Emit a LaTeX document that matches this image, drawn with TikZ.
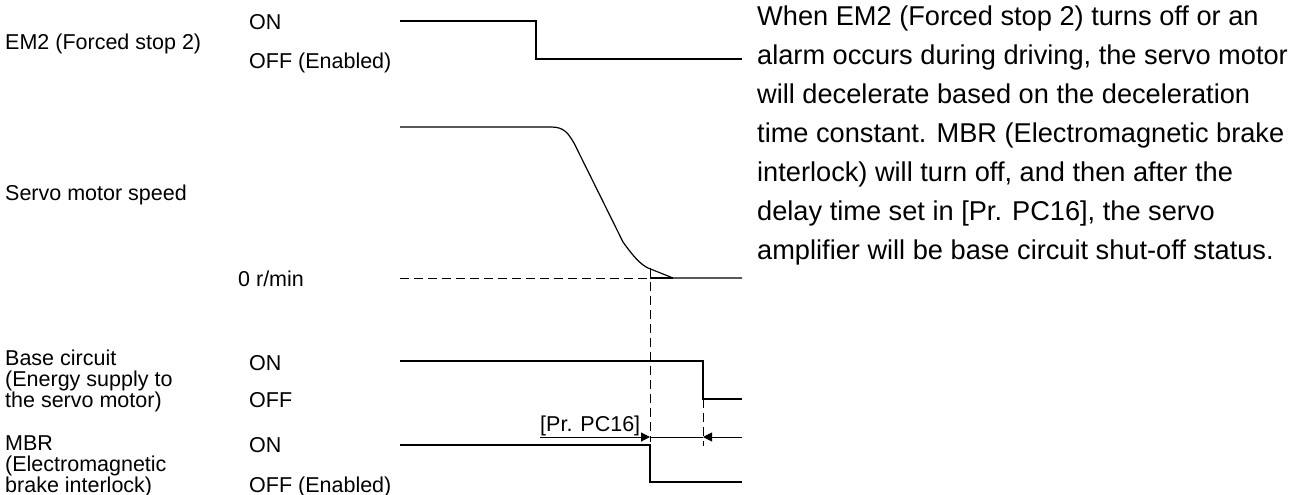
\documentclass[tikz,border=0pt]{standalone}
\usepackage{fontspec}
\setmainfont{Liberation Sans}
\usetikzlibrary{arrows.meta}
\begin{document}
\begin{tikzpicture}[x=1pt,y=-1pt,
  lbl/.style={inner sep=0pt, anchor=base west, font=\fontsize{21.5}{21}\selectfont, align=left},
  para/.style={inner sep=0pt, anchor=base west, font=\fontsize{27.2}{39.0}\selectfont, align=left},
  sig/.style={line width=1.2pt},
  guide/.style={line width=1pt, dash pattern=on 9pt off 5pt},
  dim/.style={line width=1pt},
  tipr/.style={-{Triangle[length=9pt,width=9pt]}}]
\useasboundingbox (0,0) rectangle (1298,495);
\fill[white] (0,0) rectangle (1298,495);

% labels (base anchor = baseline of the last line)
\node[lbl] (em2) at (5,49) {EM2 (Forced stop 2)};
\node[lbl] (em2on) at (249,30) {ON};
\node[lbl] (em2off) at (249,68) {OFF (Enabled)};
\node[lbl] (spd) at (5,200) {Servo motor speed};
\node[lbl] (zero) at (238,286) {0 r/min};
\node[lbl] (base) at (5,407) {Base circuit\\(Energy supply to\\the servo motor)};
\node[lbl] (baseon) at (249,370) {ON};
\node[lbl] (baseoff) at (249,407) {OFF};
\node[lbl] (mbr) at (5,492) {MBR\\(Electromagnetic\\brake interlock)};
\node[lbl] (mbron) at (249,452) {ON};
\node[lbl] (mbroff) at (249,492) {OFF (Enabled)};
\node[lbl] (pc16) at (540,431) {[Pr. PC16]};

\node[para] (txt) at (757,259) {When EM2 (Forced stop 2) turns off or an\\
alarm occurs during driving, the servo motor\\
will decelerate based on the deceleration\\
time constant. MBR (Electromagnetic brake\\
interlock) will turn off, and then after the\\
delay time set in [Pr. PC16], the servo\\
amplifier will be base circuit shut-off status.};

% coordinates
\coordinate (e0) at (400,21);
\coordinate (e1) at (536,21);
\coordinate (e2) at (536,59);
\coordinate (e3) at (742,59);

\coordinate (s0) at (400,127);
\coordinate (s1) at (551,127);
\coordinate (s2) at (574,143);
\coordinate (s3) at (623,242);
\coordinate (s4) at (648,268);
\coordinate (s5) at (673,278);
\coordinate (s6) at (742,278);
\coordinate (z0) at (400,278);
\coordinate (z1) at (650,278);
\coordinate (g0) at (650,268);
\coordinate (g1) at (650,442);

\coordinate (b0) at (400,361);
\coordinate (b1) at (703,361);
\coordinate (b2) at (703,399);
\coordinate (b3) at (742,399);
\coordinate (h1) at (703,446);

\coordinate (m0) at (400,445);
\coordinate (m1) at (650,445);
\coordinate (m2) at (650,482);
\coordinate (m3) at (742,482);

\coordinate (a0) at (540,437);
\coordinate (a1) at (650,437);
\coordinate (a2) at (703,437);
\coordinate (a3) at (742,437);

% EM2
\draw[sig] (e0) -- (e1) -- (e2) -- (e3);
% speed
\draw[sig] (s0) -- (s1) .. controls (564,127) and (568,133) .. (s2) -- (s3)
  .. controls (633,256) and (640,264) .. (s4) -- (s5) -- (s6);
\draw[guide] (z0) -- (z1);
\draw[sig] (z1) -- (s5);
% guides
\draw[guide] (g0) -- (g1);
\draw[guide] (b2) -- (h1);
% base circuit
\draw[sig] (b0) -- (b1) -- (b2) -- (b3);
% MBR
\draw[sig] (m0) -- (m1) -- (m2) -- (m3);
% delay arrows
\draw[dim,tipr] (a0) -- (a1);
\draw[dim] (a1) -- (a2);
\draw[dim,tipr] (a3) -- (a2);
\end{tikzpicture}
\end{document}
